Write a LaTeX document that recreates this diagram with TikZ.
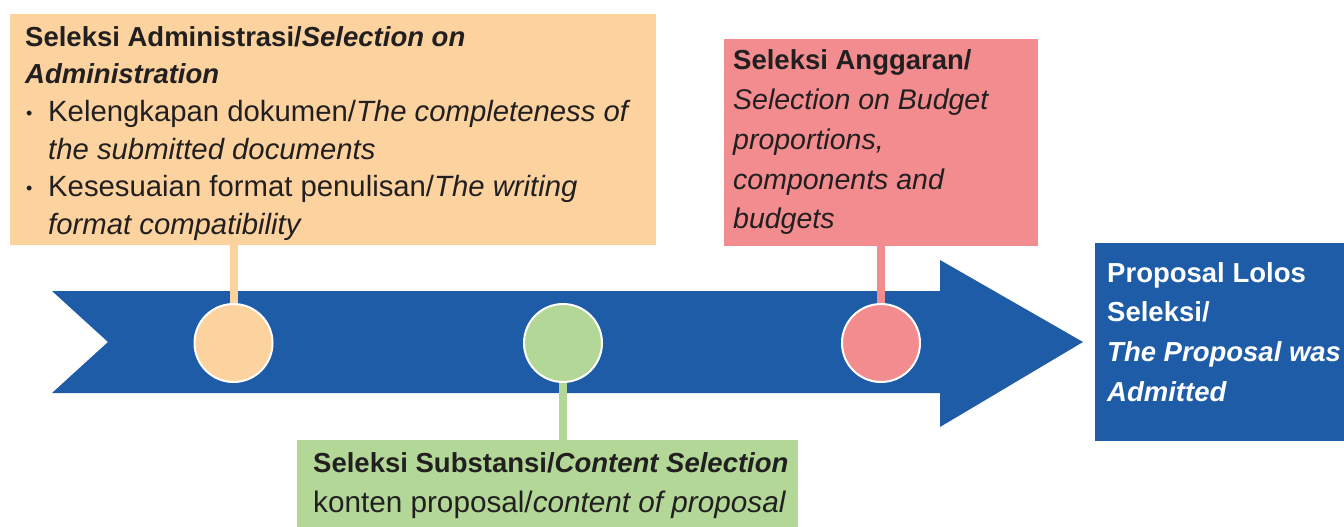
\documentclass[tikz,border=0pt]{standalone}
\usepackage{fontspec}
\setmainfont{Liberation Sans}
\definecolor{orangeF}{RGB}{252,210,159}
\definecolor{redF}{RGB}{243,140,143}
\definecolor{greenF}{RGB}{179,215,151}
\definecolor{blueF}{RGB}{30,92,168}
\definecolor{ink}{RGB}{34,31,32}
\begin{document}
\begin{tikzpicture}[x=1pt,y=-1pt,
  txt/.style={anchor=base west, inner sep=0pt, font=\fontsize{27.5}{33}\selectfont, text=ink},
  txtr/.style={txt, font=\fontsize{29.3}{33}\selectfont},
  txtg/.style={txt, font=\fontsize{29.7}{33}\selectfont},
  txti/.style={txt, font=\fontsize{28.5}{33}\selectfont},
  wtxt/.style={txt, text=white},
  bul/.style={anchor=base west, inner sep=0pt, font=\fontsize{18}{20}\selectfont, text=ink},
  panel/.style={rectangle, anchor=north west, inner sep=0pt, draw=none},
  dot/.style={circle, minimum size=78pt, inner sep=0pt, draw=white, line width=2pt},
  conn/.style={line width=8pt}]
\useasboundingbox (0,0) rectangle (1344,527);
% main arrow
\fill[blueF] (52,291) -- (940,291) -- (940,260) -- (1083,342) -- (940,427) -- (940,393) -- (52,393) -- (108,342) -- cycle;
% panels
\node[panel, fill=orangeF, minimum width=646pt, minimum height=231pt] (adm) at (10,14) {};
\node[panel, fill=redF, minimum width=314pt, minimum height=207pt] (bud) at (724,39) {};
\node[panel, fill=greenF, minimum width=501pt, minimum height=88pt] (sub) at (297,440) {};
\node[panel, fill=blueF, minimum width=250pt, minimum height=198pt] (fin) at (1095,243) {};
% circle positions
\coordinate (p1) at (233.5,343);
\coordinate (p2) at (563,343);
\coordinate (p3) at (881,343);
% connectors
\draw[conn, orangeF] (p1) -- (p1 |- adm.south);
\draw[conn, greenF] (p2) -- (p2 |- sub.north);
\draw[conn, redF] (p3) -- (p3 |- bud.south);
% circles
\node[dot, fill=orangeF] (c1) at (p1) {};
\node[dot, fill=greenF] (c2) at (p2) {};
\node[dot, fill=redF] (c3) at (p3) {};
% administration text
\node[txt] (a1) at (25,46.5) {\textbf{Seleksi Administrasi/\textit{Selection on}}};
\node[txt] (a2) at (25,84) {\textbf{\textit{Administration}}};
\node[bul] (b1) at (26,119) {•};
\node[txtr] (a3) at (48,121.5) {Kelengkapan dokumen/\textit{The completeness of}};
\node[txtr] (a4) at (48,159) {\textit{the submitted documents}};
\node[bul] (b2) at (26,194) {•};
\node[txtr] (a5) at (48,196.5) {Kesesuaian format penulisan/\textit{The writing}};
\node[txtr] (a6) at (48,234) {\textit{format compatibility}};
% budget text
\node[txt] (r1) at (733,70) {\textbf{Seleksi Anggaran/}};
\node[txti] (r2) at (733,110) {\textit{Selection on Budget}};
\node[txti] (r3) at (733,149) {\textit{proportions,}};
\node[txti] (r4) at (733,189) {\textit{components and}};
\node[txti] (r5) at (733,228) {\textit{budgets}};
% substance text
\node[txt] (g1) at (313,472) {\textbf{Seleksi Substansi/\textit{Content Selection}}};
\node[txtg] (g2) at (313,512) {konten proposal/\textit{content of proposal}};
% final text
\node[wtxt] (f1) at (1107,282) {\textbf{Proposal Lolos}};
\node[wtxt] (f2) at (1107,321) {\textbf{Seleksi/}};
\node[wtxt] (f3) at (1107,361) {\textbf{\textit{The Proposal was}}};
\node[wtxt] (f4) at (1107,401) {\textbf{\textit{Admitted}}};
\end{tikzpicture}
\end{document}
